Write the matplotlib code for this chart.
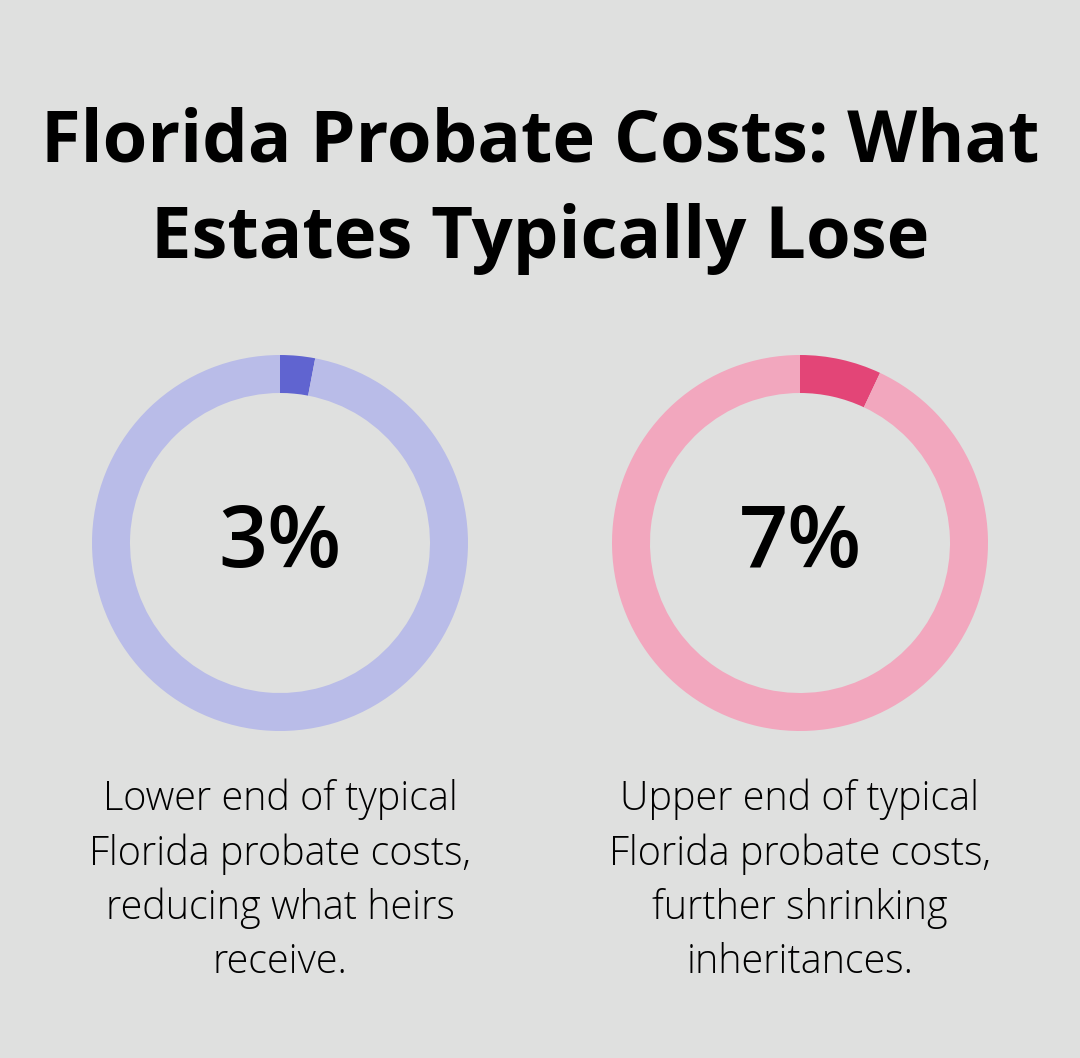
import matplotlib.pyplot as plt

# data
values = [3, 7]
labels = ['3%', '7%']
descriptions = [
    'Lower end of typical\nFlorida probate costs,\nreducing what heirs\nreceive.',
    'Upper end of typical\nFlorida probate costs,\nfurther shrinking\ninheritances.',
]
dark_colors = ['#6064D0', '#E34577']
light_colors = ['#B9BCE8', '#F2A7BE']
title = 'Florida Probate Costs: What\nEstates Typically Lose'

W, H = 1080, 1058
bg = '#DFE0DF'

fig = plt.figure(figsize=(W / 100, H / 100), dpi=100, facecolor=bg)
ax = fig.add_axes([0, 0, 1, 1])
ax.set_facecolor(bg)

ax.text(W / 2, H - 191, title, ha='center', va='center', fontsize=52,
        fontweight='bold', family='Open Sans', linespacing=1.44, color='black')

centers_x = [280, 800]
cy = H - 543
for i, v in enumerate(values):
    ax.pie([v, 100 - v], colors=[dark_colors[i], light_colors[i]],
           startangle=90, counterclock=False,
           center=(centers_x[i], cy), radius=188,
           wedgeprops=dict(width=38, linewidth=0), frame=True)
    ax.text(centers_x[i], cy - 2, labels[i], ha='center', va='center',
            fontsize=62, family='Open Sans', fontweight='semibold', color='black')
    ax.text(centers_x[i], H - 881, descriptions[i], ha='center', va='center',
            fontsize=28.5, family='Open Sans', fontweight='light',
            linespacing=1.42, color='black')

ax.set_xlim(0, W)
ax.set_ylim(0, H)
ax.set_aspect('equal')
ax.axis('off')

fig.savefig('out.png', dpi=100, facecolor=bg)
